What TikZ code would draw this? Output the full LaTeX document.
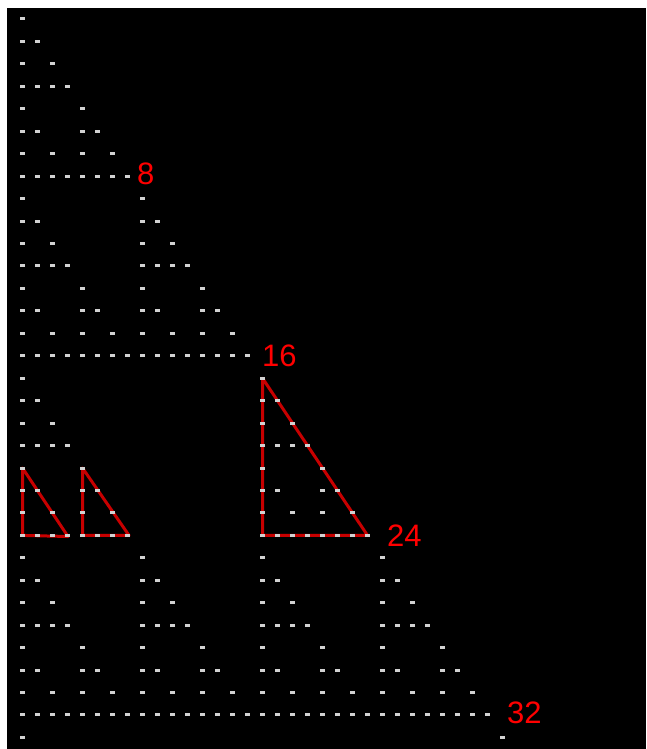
\documentclass[tikz,border=0pt]{standalone}
\usepackage{fontspec}
\setmainfont{Liberation Sans}
\definecolor{dotc}{RGB}{210,210,210}
\definecolor{lab}{RGB}{255,0,0}
\definecolor{tri}{RGB}{200,0,0}
\tikzset{
  dot/.style={fill=dotc},
  lbl/.style={text=lab, anchor=west, inner sep=0pt, font=\fontsize{31}{31}\selectfont},
  trig/.style={draw=tri, line width=3pt, line join=round}
}
\begin{document}
\begin{tikzpicture}[x=1pt,y=-1pt]
\useasboundingbox (0,0) rectangle (646,749);
\fill[white] (0,0) rectangle (646,749);
\fill[black] (7,8) rectangle (646,749);
% red triangles
\draw[trig] (262.5,378.2) -- (262.5,535.4) -- (367.5,535.4) -- cycle;
\draw[trig] (22.5,468) -- (22.5,535.4) -- (68,536.5) -- cycle;
\draw[trig] (82.5,468) -- (82.5,535.4) -- (129,535.4) -- cycle;
% Pascal triangle mod 2 (drawn over the triangles)
\foreach \n in {0,...,32} {
  \foreach \k in {0,...,\n} {
    \pgfmathtruncatemacro\m{\n-\k}
    \pgfmathtruncatemacro\p{mod(\k,2)*mod(\m,2)+mod(floor(\k/2),2)*mod(floor(\m/2),2)+mod(floor(\k/4),2)*mod(floor(\m/4),2)+mod(floor(\k/8),2)*mod(floor(\m/8),2)+mod(floor(\k/16),2)*mod(floor(\m/16),2)}
    \ifnum\p=0
      \fill[dot] ({19.75+15*\k},{17.5+22.45*\n}) rectangle +(5.5,3);
    \fi
  }
}
% labels
\node[lbl] (l8) at (137,173.5) {8};
\node[lbl] (l16) at (262,356) {16};
\node[lbl] (l24) at (387,536) {24};
\node[lbl] (l32) at (507,713) {32};
\end{tikzpicture}
\end{document}
